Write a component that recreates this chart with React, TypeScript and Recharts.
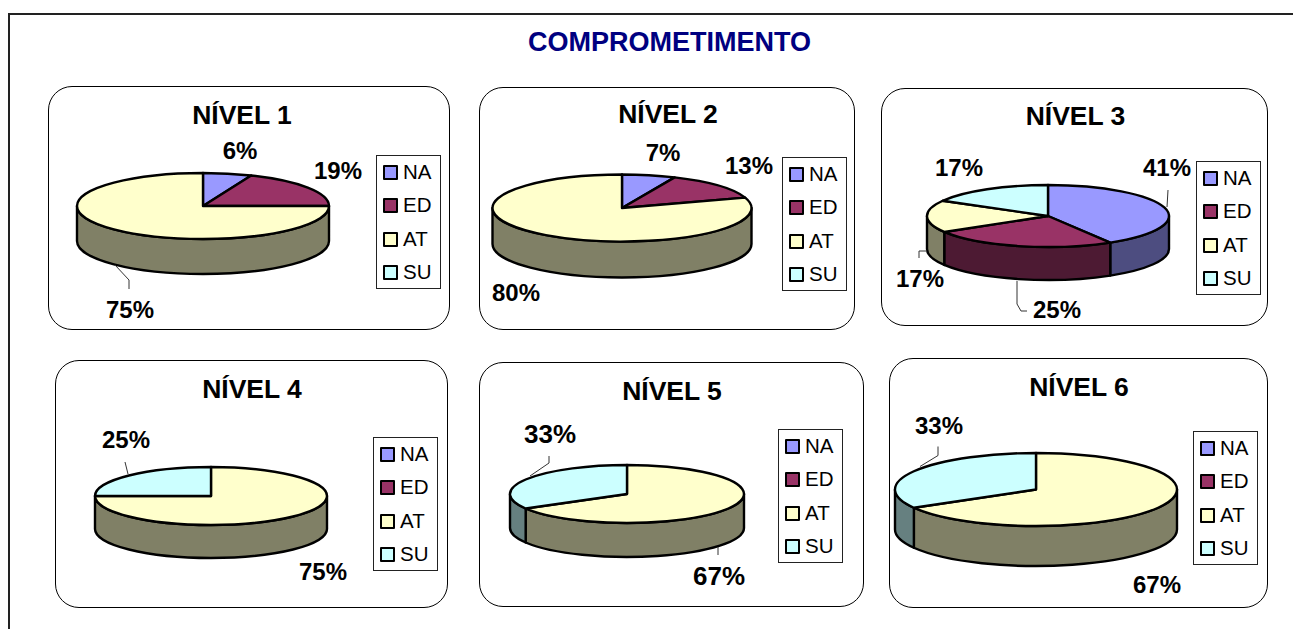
import React from "react";
import { PieChart, Pie, Legend } from "recharts";

const categories = ["NA", "ED", "AT", "SU"];
const topColors = ["#9999FF", "#993366", "#FFFFCC", "#CCFFFF"];
const wallColors = ["#4D4D80", "#4D1A33", "#808066", "#668080"];

const nivel1 = [6.25, 18.75, 75, 0];
const nivel2 = [6.67, 13.33, 80, 0];
const nivel3 = [41.4, 25, 16.8, 16.8];
const nivel4 = [0, 0, 75, 25];
const nivel5 = [0, 0, 66.67, 33.33];
const nivel6 = [0, 0, 66.67, 33.33];

const FONT = "'Liberation Sans', Arial, sans-serif";

type Pt = [number, number];
type LabelCfg = { at: Pt; leader?: Pt[] } | null;
type PanelCfg = {
  title: string;
  values: number[];
  box: [number, number, number, number];
  titlePos: Pt;
  pie: { cx: number; cy: number; rx: number; ry: number; depth: number };
  legend: Pt;
  labelSize: number;
  labels: LabelCfg[];
};

const panels: PanelCfg[] = [
  {
    title: "NÍVEL 1",
    values: nivel1,
    box: [48, 86, 402, 244],
    titlePos: [242, 124],
    pie: { cx: 203, cy: 206, rx: 126, ry: 33, depth: 35 },
    legend: [376, 155],
    labelSize: 24,
    labels: [
      { at: [37, -47] },
      { at: [135, -27] },
      { at: [-73, 112], leader: [[-88, 59], [-74, 74], [-74, 83]] },
      null,
    ],
  },
  {
    title: "NÍVEL 2",
    values: nivel2,
    box: [479, 87, 376, 243],
    titlePos: [668, 123],
    pie: { cx: 622, cy: 208, rx: 129.5, ry: 33.5, depth: 36 },
    legend: [782, 157],
    labelSize: 24,
    labels: [{ at: [41, -47] }, { at: [127, -34] }, { at: [-106, 93] }, null],
  },
  {
    title: "NÍVEL 3",
    values: nivel3,
    box: [881, 88, 387, 238],
    titlePos: [1075.5, 125],
    pie: { cx: 1048, cy: 216, rx: 121, ry: 31, depth: 33 },
    legend: [1196, 161],
    labelSize: 24,
    labels: [
      { at: [119, -40], leader: [[119, -9], [120, -26]] },
      { at: [9, 102], leader: [[-31, 65], [-31, 88], [-27, 95], [-21, 95]] },
      { at: [-128, 71], leader: [[-129, 42], [-129, 35], [-121, 35]] },
      { at: [-89, -40] },
    ],
  },
  {
    title: "NÍVEL 4",
    values: nivel4,
    box: [55, 360, 393, 248],
    titlePos: [252, 398],
    pie: { cx: 211, cy: 496, rx: 116, ry: 29, depth: 33 },
    legend: [373, 437],
    labelSize: 24,
    labels: [
      null,
      null,
      { at: [112, 84] },
      { at: [-85, -48], leader: [[-86, -34], [-83, -22]] },
    ],
  },
  {
    title: "NÍVEL 5",
    values: nivel5,
    box: [479, 362, 385, 245],
    titlePos: [672, 400],
    pie: { cx: 627, cy: 494, rx: 117, ry: 29, depth: 34 },
    legend: [778, 429],
    labelSize: 26,
    labels: [
      null,
      null,
      { at: [92, 91], leader: [[91, 53], [91, 61]] },
      { at: [-77, -51], leader: [[-78, -38], [-78, -31], [-97, -18]] },
    ],
  },
  {
    title: "NÍVEL 6",
    values: nivel6,
    box: [889, 358, 379, 250],
    titlePos: [1079, 396],
    pie: { cx: 1036, cy: 489.5, rx: 141, ry: 36.5, depth: 40 },
    legend: [1193, 431],
    labelSize: 24,
    labels: [
      null,
      null,
      { at: [121, 103] },
      { at: [-97, -56], leader: [[-98, -43], [-98, -34], [-116, -23]] },
    ],
  },
];

const rad = (a: number) => (a * Math.PI) / 180;

function makeTopShape(ry: number) {
  return (p: any) => {
    const { cx, cy, outerRadius: rx, startAngle: s, endAngle: e, fill } = p;
    if (Math.abs(s - e) < 1e-6) return <g />;
    const x = (a: number) => cx + rx * Math.cos(rad(a));
    const y = (a: number) => cy - ry * Math.sin(rad(a));
    const large = Math.abs(s - e) > 180 ? 1 : 0;
    const d = `M${cx},${cy}L${x(s)},${y(s)}A${rx},${ry} 0 ${large} 1 ${x(e)},${y(e)}Z`;
    return <path d={d} fill={fill} stroke="#000" strokeWidth={2.4} strokeLinejoin="round" />;
  };
}

function makeWallShape(ry: number, depth: number) {
  return (p: any) => {
    const { cx, cy, outerRadius: rx, startAngle: s, endAngle: e, name } = p;
    const hi = Math.min(s, 0);
    const lo = Math.max(e, -180);
    if (hi - lo < 1e-6) return <g />;
    const x = (a: number) => cx + rx * Math.cos(rad(a));
    const y = (a: number) => cy - ry * Math.sin(rad(a));
    const d =
      `M${x(hi)},${y(hi)}A${rx},${ry} 0 0 1 ${x(lo)},${y(lo)}` +
      `L${x(lo)},${y(lo) + depth}A${rx},${ry} 0 0 0 ${x(hi)},${y(hi) + depth}Z`;
    return (
      <path
        d={d}
        fill={wallColors[categories.indexOf(name)]}
        stroke="#000"
        strokeWidth={2.4}
        strokeLinejoin="round"
      />
    );
  };
}

function makeLabel(labels: LabelCfg[], size: number) {
  return (p: any) => {
    const { cx, cy, index, value } = p;
    const cfg = labels[index];
    if (!cfg || !value) return <g />;
    return (
      <g>
        {cfg.leader && (
          <polyline
            points={cfg.leader.map(([a, b]) => `${cx + a},${cy + b}`).join(" ")}
            fill="none"
            stroke="#333"
            strokeWidth={1}
          />
        )}
        <text
          x={cx + cfg.at[0]}
          y={cy + cfg.at[1]}
          textAnchor="middle"
          fontFamily={FONT}
          fontWeight="bold"
          fontSize={size}
          fill="#000"
        >
          {Math.round(value)}%
        </text>
      </g>
    );
  };
}

function LegendBox(props: any) {
  const items = (props.payload || []).filter((it: any) => it.type !== "none");
  return (
    <div
      style={{
        position: "relative",
        boxSizing: "border-box",
        width: 65,
        height: 134,
        border: "1px solid #222",
        background: "#fff",
        fontFamily: FONT,
        fontSize: 20.5,
        color: "#000",
      }}
    >
      {items.map((it: any, i: number) => (
        <div key={it.value} style={{ position: "absolute", left: 6, top: 6 + i * 33.3, height: 20, lineHeight: "20px" }}>
          <span
            style={{
              position: "absolute",
              left: 0,
              top: 3,
              width: 11,
              height: 11,
              border: "2px solid #000",
              borderRadius: 1,
              background: it.color,
            }}
          />
          <span style={{ position: "absolute", left: 20, top: 0 }}>{it.value}</span>
        </div>
      ))}
    </div>
  );
}

function Panel({ cfg }: { cfg: PanelCfg }) {
  const [bx, by, bw, bh] = cfg.box;
  const { cx, cy, rx, ry, depth } = cfg.pie;
  const data = categories.map((name, i) => ({ name, value: cfg.values[i], fill: topColors[i] }));
  const pieCommon = {
    data,
    dataKey: "value",
    nameKey: "name",
    cx: cx - bx,
    cy: cy - by,
    outerRadius: rx,
    innerRadius: 0,
    startAngle: 90,
    endAngle: -270,
    isAnimationActive: false,
    labelLine: false,
  };
  return (
    <>
      <div
        style={{
          position: "absolute",
          left: bx,
          top: by,
          width: bw,
          height: bh,
          boxSizing: "border-box",
          border: "1px solid #000",
          borderRadius: 24,
          background: "#fff",
        }}
      />
      <div style={{ position: "absolute", left: bx, top: by }}>
        <PieChart width={bw} height={bh} margin={{ top: 0, right: 0, bottom: 0, left: 0 }}>
          <text
            x={cfg.titlePos[0] - bx}
            y={cfg.titlePos[1] - by}
            textAnchor="middle"
            fontFamily={FONT}
            fontWeight="bold"
            fontSize={26.5}
            fill="#000"
          >
            {cfg.title}
          </text>
          <Pie {...pieCommon} legendType="none" shape={makeWallShape(ry, depth)} />
          <Pie {...pieCommon} legendType="square" shape={makeTopShape(ry)} label={makeLabel(cfg.labels, cfg.labelSize)} />
          <Legend
            layout="vertical"
            align="right"
            verticalAlign="middle"
            itemSorter={null}
            content={<LegendBox />}
            wrapperStyle={{
              left: cfg.legend[0] - bx,
              top: cfg.legend[1] - by,
              right: "auto",
              bottom: "auto",
              width: 65,
              height: 134,
            }}
          />
        </PieChart>
      </div>
    </>
  );
}

export default function App() {
  return (
    <div
      style={{
        position: "absolute",
        left: 0,
        top: 0,
        width: 1293,
        height: 629,
        overflow: "hidden",
        background: "#fff",
      }}
    >
      <div style={{ position: "absolute", left: 8, top: 13, width: 1285, height: 2, background: "#222" }} />
      <div style={{ position: "absolute", left: 8, top: 13, width: 2, height: 616, background: "#222" }} />
      <div
        style={{
          position: "absolute",
          left: 0,
          top: 27,
          width: 1339,
          textAlign: "center",
          fontFamily: FONT,
          fontWeight: "bold",
          fontSize: 27,
          lineHeight: "30px",
          color: "#000080",
        }}
      >
        COMPROMETIMENTO
      </div>
      {panels.map((p) => (
        <Panel key={p.title} cfg={p} />
      ))}
    </div>
  );
}
